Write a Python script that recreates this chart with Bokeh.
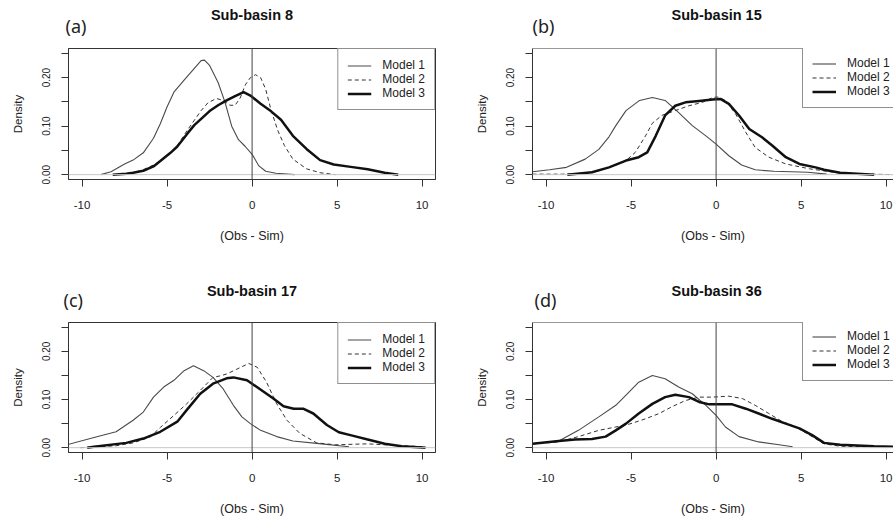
from bokeh.plotting import figure
from bokeh.layouts import gridplot
from bokeh.models import Span, Title, FixedTicker, Range1d
from bokeh.embed import file_html
from bokeh.resources import INLINE

# ---------------- data ----------------
tags = ["(a)", "(b)", "(c)", "(d)"]
titles = ["Sub-basin 8", "Sub-basin 15", "Sub-basin 17", "Sub-basin 36"]
model_names = ["Model 1", "Model 2", "Model 3"]
x_ticks = [-10, -5, 0, 5, 10]
y_ticks = [0.0, 0.05, 0.10, 0.15, 0.20, 0.25]
y_tick_labels = ["0.00", "", "0.10", "", "0.20", ""]

a_m1_x = [-8.9, -8.3, -7.5, -7.0, -6.4, -5.8, -5.4, -5.0, -4.6, -4.0, -3.5, -3.0, -2.8, -2.5, -2.0, -1.6, -1.2, -0.8, -0.4, 0.0, 0.4, 0.8, 1.4, 2.5]
a_m1_y = [0.0, 0.006, 0.022, 0.030, 0.045, 0.075, 0.105, 0.140, 0.170, 0.195, 0.215, 0.235, 0.236, 0.225, 0.190, 0.150, 0.100, 0.072, 0.058, 0.042, 0.018, 0.007, 0.003, 0.0]
a_m2_x = [-7.6, -7.0, -6.4, -5.8, -5.4, -5.0, -4.4, -3.8, -3.4, -3.0, -2.6, -2.1, -1.7, -1.3, -1.0, -0.7, -0.4, -0.1, 0.2, 0.5, 0.8, 1.1, 1.5, 1.9, 2.4, 3.2, 4.0, 4.9]
a_m2_y = [0.0, 0.004, 0.010, 0.020, 0.028, 0.038, 0.060, 0.092, 0.112, 0.132, 0.148, 0.157, 0.153, 0.143, 0.143, 0.158, 0.185, 0.200, 0.206, 0.200, 0.176, 0.135, 0.092, 0.060, 0.032, 0.012, 0.004, 0.0]
a_m3_x = [-8.2, -7.4, -7.0, -6.4, -5.8, -5.4, -4.8, -4.4, -3.8, -3.4, -2.9, -2.5, -2.0, -1.5, -1.0, -0.5, -0.1, 0.5, 1.1, 1.7, 2.4, 3.2, 4.0, 4.8, 5.8, 6.8, 7.8, 8.6]
a_m3_y = [0.0, 0.002, 0.004, 0.008, 0.017, 0.028, 0.045, 0.058, 0.085, 0.102, 0.118, 0.131, 0.143, 0.153, 0.162, 0.170, 0.163, 0.146, 0.131, 0.113, 0.080, 0.053, 0.030, 0.021, 0.016, 0.011, 0.004, 0.0]

b_m1_x = [-10.8, -9.8, -8.8, -7.7, -6.9, -6.3, -5.9, -5.3, -4.5, -3.75, -3.0, -2.2, -1.4, -0.6, 0.0, 0.75, 1.5, 2.3, 3.4, 5.4, 6.5]
b_m1_y = [0.006, 0.010, 0.015, 0.032, 0.052, 0.078, 0.101, 0.132, 0.153, 0.159, 0.153, 0.128, 0.101, 0.080, 0.063, 0.039, 0.020, 0.010, 0.007, 0.005, 0.001]
b_m2_x = [-10.8, -9.0, -8.0, -7.0, -6.3, -5.8, -5.3, -4.75, -4.15, -3.75, -3.2, -2.4, -1.6, -0.8, -0.2, 0.1, 0.55, 1.15, 1.75, 2.3, 3.1, 4.1, 5.5, 7.3, 9.0, 10.5]
b_m2_y = [0.001, 0.001, 0.002, 0.007, 0.015, 0.021, 0.029, 0.046, 0.080, 0.106, 0.122, 0.132, 0.142, 0.149, 0.159, 0.160, 0.153, 0.125, 0.087, 0.056, 0.036, 0.022, 0.012, 0.003, 0.001, 0.0]
b_m3_x = [-8.75, -7.3, -6.3, -5.3, -4.55, -4.05, -3.55, -3.0, -2.4, -1.8, -1.0, -0.2, 0.25, 0.75, 1.35, 1.95, 2.7, 3.3, 4.1, 4.9, 5.85, 6.35, 7.3, 9.3]
b_m3_y = [0.0, 0.005, 0.015, 0.029, 0.036, 0.046, 0.080, 0.122, 0.142, 0.149, 0.152, 0.155, 0.156, 0.146, 0.122, 0.094, 0.077, 0.060, 0.036, 0.022, 0.015, 0.010, 0.004, 0.0]

c_m1_x = [-10.9, -9.3, -8.0, -7.0, -6.4, -5.8, -5.2, -4.6, -4.0, -3.45, -2.85, -2.3, -1.7, -1.1, -0.6, -0.1, 0.5, 1.45, 2.4, 3.8, 5.7]
c_m1_y = [0.006, 0.021, 0.033, 0.057, 0.074, 0.105, 0.126, 0.140, 0.160, 0.170, 0.160, 0.146, 0.122, 0.088, 0.064, 0.050, 0.036, 0.023, 0.014, 0.009, 0.002]
c_m2_x = [-10.1, -8.0, -7.0, -6.0, -5.4, -4.6, -3.85, -3.05, -2.3, -1.9, -1.5, -0.9, -0.2, 0.3, 0.85, 1.45, 2.05, 2.8, 3.8, 4.9, 6.8, 8.8, 10.2]
c_m2_y = [0.0, 0.004, 0.010, 0.022, 0.042, 0.067, 0.091, 0.119, 0.146, 0.149, 0.153, 0.163, 0.175, 0.167, 0.136, 0.091, 0.057, 0.030, 0.010, 0.006, 0.008, 0.004, 0.002]
c_m3_x = [-9.7, -9.3, -7.4, -6.4, -5.4, -4.4, -3.85, -3.05, -2.3, -1.5, -1.1, -0.3, 0.45, 1.25, 1.85, 2.45, 3.0, 3.6, 4.4, 5.1, 5.9, 6.8, 7.8, 8.8, 10.2]
c_m3_y = [0.0, 0.002, 0.010, 0.019, 0.033, 0.054, 0.078, 0.112, 0.133, 0.144, 0.146, 0.140, 0.122, 0.102, 0.086, 0.081, 0.081, 0.071, 0.047, 0.032, 0.025, 0.017, 0.008, 0.003, 0.0]

d_m1_x = [-10.8, -9.25, -8.1, -6.9, -5.9, -5.3, -4.55, -3.75, -3.0, -2.2, -1.4, -0.6, 0.0, 0.55, 1.35, 2.5, 3.7, 4.5]
d_m1_y = [0.008, 0.014, 0.036, 0.064, 0.088, 0.109, 0.136, 0.150, 0.143, 0.126, 0.112, 0.088, 0.067, 0.043, 0.023, 0.012, 0.006, 0.002]
d_m2_x = [-10.8, -9.25, -8.1, -6.9, -5.9, -5.1, -4.15, -3.35, -2.6, -1.8, -1.0, -0.2, 0.75, 1.55, 2.3, 3.1, 3.9, 4.7, 5.5, 6.35, 7.3, 9.0, 10.5]
d_m2_y = [0.008, 0.012, 0.023, 0.036, 0.043, 0.049, 0.060, 0.071, 0.085, 0.098, 0.105, 0.105, 0.107, 0.102, 0.088, 0.071, 0.054, 0.043, 0.026, 0.008, 0.003, 0.002, 0.002]
d_m3_x = [-10.8, -9.25, -8.3, -7.3, -6.5, -5.9, -5.3, -4.55, -3.75, -3.0, -2.4, -1.6, -1.0, -0.4, 0.35, 0.95, 1.75, 2.5, 3.3, 4.1, 4.9, 5.65, 6.35, 7.3, 9.3, 10.5]
d_m3_y = [0.008, 0.014, 0.017, 0.018, 0.023, 0.036, 0.050, 0.071, 0.091, 0.105, 0.110, 0.105, 0.095, 0.090, 0.090, 0.090, 0.081, 0.071, 0.060, 0.050, 0.040, 0.026, 0.010, 0.006, 0.003, 0.002]

series = [
    [(a_m1_x, a_m1_y), (a_m2_x, a_m2_y), (a_m3_x, a_m3_y)],
    [(b_m1_x, b_m1_y), (b_m2_x, b_m2_y), (b_m3_x, b_m3_y)],
    [(c_m1_x, c_m1_y), (c_m2_x, c_m2_y), (c_m3_x, c_m3_y)],
    [(d_m1_x, d_m1_y), (d_m2_x, d_m2_y), (d_m3_x, d_m3_y)],
]

# ---------------- styling ----------------
FONT = "Liberation Sans"
LINE_STYLES = [
    dict(line_color="#4a4a4a", line_width=1.1, line_dash="solid"),
    dict(line_color="#333333", line_width=1.0, line_dash="4 3"),
    dict(line_color="#111111", line_width=2.5, line_dash="solid"),
]
FRAME_H = 131
PX_PER_UNIT = 17.0


def make_panel(i, right, top):
    width = 453 if right else 440
    height = 258 if top else 260
    b_left = 92 if right else 68
    b_right = 0 if right else 5
    b_top = 48 if top else 64
    b_bottom = height - b_top - FRAME_H
    frame_w = width - b_left - b_right
    x0 = -10.8
    x1 = x0 + frame_w / PX_PER_UNIT

    p = figure(width=width, height=height, output_backend="svg",
               toolbar_location=None, tools="",
               x_range=Range1d(x0, x1), y_range=Range1d(-0.01, 0.26),
               min_border_left=b_left, min_border_right=b_right,
               min_border_top=b_top, min_border_bottom=b_bottom)
    p.xgrid.visible = False
    p.ygrid.visible = False
    p.background_fill_color = "white"
    p.border_fill_color = "white"
    if right:
        p.outline_line_color = None
        p.add_layout(Span(location=0.26, dimension="width",
                          line_color="#333333", line_width=1))
    else:
        p.outline_line_color = "#333333"
        p.outline_line_width = 1

    # titles: bold sub-basin title (outer) and panel tag (next to the frame)
    p.title.text = titles[i]
    if right:
        p.title.align = "left"
        p.title.offset = 139
    else:
        p.title.align = "center"
    p.title.text_font = FONT
    p.title.text_font_size = "14.5px"
    p.title.text_font_style = "bold"
    p.title.text_color = "#111111"
    p.title.standoff = -45 if top else -47
    p.add_layout(Title(text=tags[i], align="left",
                       offset=[-3, 0, -5, 2][i],
                       text_font="Noto Sans", text_font_size="18px",
                       text_font_style="normal", text_color="#222222",
                       standoff=22 if top else 21), "above")

    # reference lines
    p.add_layout(Span(location=0, dimension="width",
                      line_color="#c8c8c8", line_width=1))
    p.add_layout(Span(location=0, dimension="height",
                      line_color="#444444", line_width=1))

    for (xs, ys), name, st in zip(series[i], model_names, LINE_STYLES):
        p.line(xs, ys, legend_label=name, **st)

    # axes
    for ax in (p.xaxis[0], p.yaxis[0]):
        ax.axis_line_color = "#333333"
        ax.major_tick_line_color = "#333333"
        ax.major_tick_out = 7
        ax.major_tick_in = 0
        ax.minor_tick_line_color = None
        ax.major_label_text_font = FONT
        ax.major_label_text_color = "#222222"
        ax.axis_label_text_font = FONT
        ax.axis_label_text_font_style = "normal"
        ax.axis_label_text_color = "#222222"

    xa = p.xaxis[0]
    xa.ticker = FixedTicker(ticks=x_ticks)
    xa.major_label_overrides = {t: str(t) for t in x_ticks}
    xa.major_label_text_font_size = "11.5px"
    xa.major_label_standoff = 14
    xa.axis_label = "(Obs - Sim)"
    xa.axis_label_text_font_size = "12.5px"
    xa.axis_label_standoff = 17

    ya = p.yaxis[0]
    ya.ticker = FixedTicker(ticks=y_ticks)
    ya.major_label_overrides = dict(zip(y_ticks, y_tick_labels))
    ya.major_label_orientation = "vertical"
    ya.major_label_text_font_size = "10px"
    ya.major_label_standoff = 11
    ya.axis_label = "Density"
    ya.axis_label_text_font_size = "11.5px"
    ya.axis_label_standoff = 16

    # legend
    lg = p.legend[0]
    lg.label_text_font = FONT
    lg.label_text_font_size = "12px"
    lg.label_text_color = "#222222"
    lg.border_line_color = "#222222"
    lg.border_line_width = 1
    lg.background_fill_alpha = 1
    lg.glyph_width = 24
    lg.glyph_height = 13
    lg.label_height = 13
    lg.label_standoff = 11
    lg.padding = 9
    lg.spacing = 0
    lg.margin = 0
    if right:
        lg.location = (270, FRAME_H - 60)
    else:
        lg.location = "top_right"
    return p


pa = make_panel(0, right=False, top=True)
pb = make_panel(1, right=True, top=True)
pc = make_panel(2, right=False, top=False)
pd = make_panel(3, right=True, top=False)

grid = gridplot([[pa, pb], [pc, pd]], toolbar_location=None)

open("out.html", "w").write(file_html(grid, INLINE))
